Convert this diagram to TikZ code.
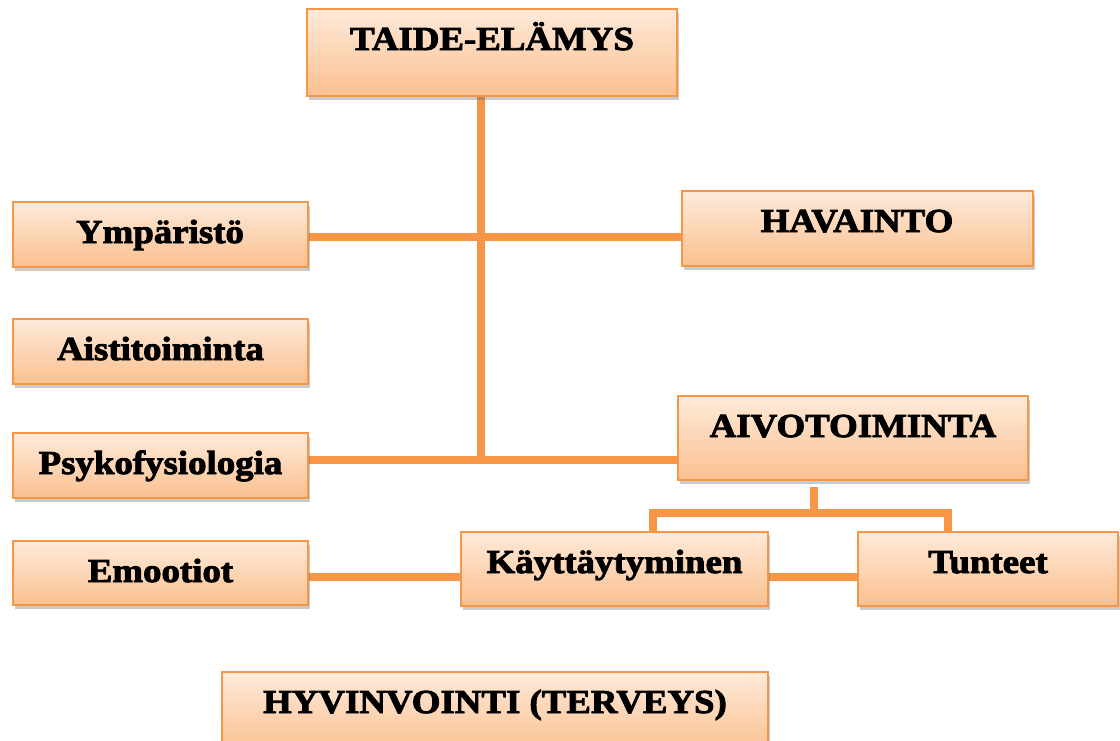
\documentclass[tikz,border=0pt]{standalone}
\usepackage{fontspec}
\newfontfamily\boxfont{Liberation Serif Bold}[FakeBold=2.6, FakeStretch=1.1]
\definecolor{linkorange}{RGB}{247, 150, 70}
\definecolor{boxtop}{RGB}{254, 234, 218}
\definecolor{boxbottom}{RGB}{250, 192, 143}
\usepackage{tikz}
\usetikzlibrary{positioning, calc, shadows, backgrounds}

\begin{document}
\begin{tikzpicture}[x=1pt, y=-1pt,
  box/.style={draw=linkorange, line width=2pt, top color=boxtop, bottom color=boxbottom,
    anchor=north, inner xsep=4pt, inner ysep=0pt, text height=41pt,
    font=\boxfont\fontsize{33.5}{40}\selectfont,
    drop shadow={shadow xshift=2pt, shadow yshift=-4pt, opacity=0.35, fill=black!60}},
  link/.style={draw=linkorange, line width=8pt}]
  \useasboundingbox (0, 0) rectangle (1120, 740);

  % Top box
  \node[box, minimum width=370pt, text depth=46pt] (taide) at (492, 8) {TAIDE-ELÄMYS};

  % Left column
  \node[box, minimum width=295pt, text depth=24pt] (ymp) at (160, 201) {Ympäristö};
  \node[box, minimum width=295pt, text depth=24pt] (aisti) at (160.5, 318) {Aistitoiminta};
  \node[box, minimum width=295pt, text depth=24pt] (psyko) at (160.5, 432) {Psykofysiologia};
  \node[box, minimum width=295pt, text depth=23pt] (emo) at (160.5, 540) {Emootiot};

  % Right column
  \node[box, minimum width=351pt, text depth=34pt] (hav) at (857, 190) {HAVAINTO};
  \node[box, minimum width=350pt, text depth=43pt] (aivo) at (853, 395) {AIVOTOIMINTA};
  \node[box, minimum width=307pt, text depth=33pt] (kay) at (614.5, 531) {Käyttäytyminen};
  \node[box, minimum width=260pt, text depth=33pt] (tun) at (988, 531) {Tunteet};

  % Bottom box
  \node[box, minimum width=546pt, text depth=40pt] (hyv) at (495, 671) {HYVINVOINTI (TERVEYS)};

  % Connectors
  \coordinate (hub1) at (481, 237);
  \coordinate (hub2) at (481, 460);
  \coordinate (split) at (814, 513);
  \coordinate (legL) at (653, 513);
  \coordinate (legR) at (948, 513);
  \coordinate (low) at (0, 577);
  \begin{pgfonlayer}{background}
    \draw[link] (taide.south -| hub1) -- ($(hub2)+(0, 3)$);
    \draw[link] (ymp.east |- hub1) -- (hav.west |- hub1);
    \draw[link] (psyko.east |- hub2) -- (aivo.west |- hub2);
    \draw[link] ($(aivo.south -| split)+(0, 6)$) -- (split);
    \draw[link] ($(legL |- kay.north)+(0, 4)$) -- (legL) -- (legR) -- ($(legR |- tun.north)+(0, 4)$);
    \draw[link] (emo.east |- low) -- (kay.west |- low);
    \draw[link] (kay.east |- low) -- (tun.west |- low);
  \end{pgfonlayer}
\end{tikzpicture}
\end{document}
